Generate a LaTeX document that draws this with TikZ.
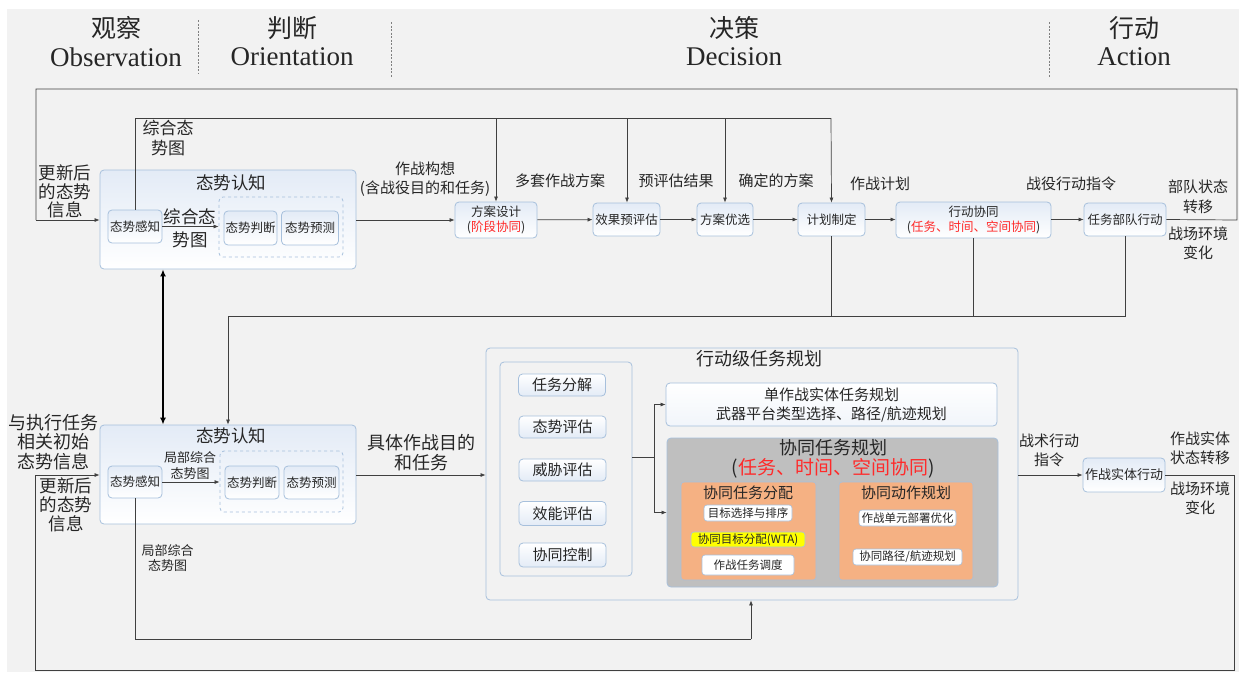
\documentclass[tikz,border=0pt]{standalone}
\usepackage{fontspec}
\setmainfont{Liberation Serif}
\newfontfamily\cjk{Noto Sans CJK SC}
\usetikzlibrary{arrows.meta}
\newcommand\myfs[2]{\fontsize{#1}{#2}\selectfont}
\definecolor{bgc}{HTML}{F2F2F2}
\definecolor{bordc}{HTML}{A7C0DC}
\definecolor{boxtop}{HTML}{E3EBF6}
\definecolor{linec}{HTML}{404040}
\definecolor{txt}{HTML}{262626}
\definecolor{redc}{HTML}{FF2A2A}
\definecolor{grayc}{HTML}{BFBFBF}
\definecolor{orangec}{HTML}{F5B183}
\definecolor{yel}{HTML}{FFFF00}
\tikzset{
 base/.style={inner sep=0pt, align=center, text=txt},
 box/.style={draw=bordc, line width=0.8pt, rounded corners=4pt, top color=boxtop, bottom color=white, inner sep=1pt, align=center, text=txt, font=\cjk\myfs{12.5}{15}},
 plainbox/.style={draw=bordc, line width=0.8pt, rounded corners=4pt, fill=bgc},
 dbox/.style={draw=bordc, dashed, line width=0.8pt, rounded corners=4pt},
 wbox/.style={draw=bordc, line width=0.6pt, rounded corners=3pt, fill=white, inner sep=1pt, align=center, text=txt, font=\cjk\myfs{11.5}{13}},
 sbox/.style={draw=bordc, line width=0.8pt, rounded corners=4pt, top color=white, bottom color=boxtop, inner sep=1pt, align=center, text=txt, font=\cjk\myfs{15}{17}},
 lbl/.style={base, font=\cjk\myfs{15}{18.5}},
 slbl/.style={base, font=\cjk\myfs{13}{16}},
 biglbl/.style={base, font=\cjk\myfs{17.5}{19}},
 ln/.style={draw=linec, line width=0.7pt},
 arr/.style={ln, -{Latex[length=5pt,width=4pt]}},
 divider/.style={draw=gray, line width=0.6pt, dash pattern=on 2pt off 1.5pt},
}
\begin{document}
\begin{tikzpicture}[x=1pt,y=-1pt]
\useasboundingbox (0,0) rectangle (1239,672);
\fill[bgc] (7,9) rectangle (1239,672);
% header
\node[base, font=\cjk\myfs{25}{28}] (hobs) at (116,28) {观察};
\node[base, font=\myfs{27}{30}] (hobsE) at (116,57) {Observation};
\node[base, font=\cjk\myfs{25}{28}] (hori) at (292,28) {判断};
\node[base, font=\myfs{27}{30}] (horiE) at (292,57) {Orientation};
\node[base, font=\cjk\myfs{25}{28}] (hdec) at (734,28) {决策};
\node[base, font=\myfs{27}{30}] (hdecE) at (734,57) {Decision};
\node[base, font=\cjk\myfs{25}{28}] (hact) at (1134,28) {行动};
\node[base, font=\myfs{27}{30}] (hactE) at (1134,57) {Action};
\draw[divider] (198,20) -- (198,74);
\draw[divider] (391,22) -- (391,77);
\draw[divider] (1049,22) -- (1049,77);

% upper situation awareness
\node[box, minimum width=256pt, minimum height=99pt] (SA1) at (228,219.5) {};
\node[biglbl] (SA1t) at (231,183) {态势认知};
\node[box, minimum width=54pt, minimum height=33pt] (GZ1) at (135,226.5) {态势感知};
\node[dbox, minimum width=124pt, minimum height=60pt] (DB1) at (281,227) {};
\node[box, minimum width=53pt, minimum height=34pt] (PD1) at (250.5,228) {态势判断};
\node[box, minimum width=57pt, minimum height=34pt] (YC1) at (310,228) {态势预测};
\draw[arr] (GZ1.east) -- (DB1.west |- GZ1.east);
\node[biglbl, font=\cjk\myfs{17.5}{22.5}] (L1) at (190,228.5) {综合态\\势图};

% decision row
\node[box, minimum width=82pt, minimum height=36pt] (FA) at (496,220) {方案设计\\(\textcolor{redc}{阶段协同})};
\node[box, minimum width=67pt, minimum height=33pt] (XG) at (626.5,219.5) {效果预评估};
\node[box, minimum width=56pt, minimum height=33pt] (YX) at (725,219.5) {方案优选};
\node[box, minimum width=67pt, minimum height=33pt] (JH) at (831.5,219.5) {计划制定};
\node[box, minimum width=155pt, minimum height=36pt] (XD) at (973.5,220) {行动协同\\(\textcolor{redc}{任务、时间、空间协同})};
\node[box, minimum width=82pt, minimum height=33pt] (RW) at (1125,219.5) {任务部队行动};

\draw[arr] (SA1.east |- FA.west) -- (FA.west);
\draw[arr] (FA) -- (XG);
\draw[arr] (XG) -- (YX);
\draw[arr] (YX) -- (JH);
\draw[arr] (JH) -- (XD.west |- JH.east);
\draw[arr] (XD.east |- RW.west) -- (RW.west);

\node[lbl] (Lzz) at (425,179) {作战构想\\(含战役目的和任务)};
\node[lbl] (Ldt) at (560,181) {多套作战方案};
\node[lbl] (Lpg) at (676,181) {预评估结果};
\node[lbl] (Lqd) at (776,181) {确定的方案};
\node[lbl] (Ljh) at (880,184) {作战计划};
\node[lbl] (Lzy) at (1071,184) {战役行动指令};
\node[lbl, font=\cjk\myfs{15}{19.5}] (Lbd) at (1198,197) {部队状态\\转移};
\node[lbl, font=\cjk\myfs{15}{19}] (Lhj) at (1198,243) {战场环境\\变化};

% overview line from upper perception
\coordinate (T0) at (135,118);
\draw[ln] (GZ1.north) -- (T0) -- (831,118);
\draw[arr] (831,118) -- (JH.north);
\draw[arr] (496,118) -- (FA.north);
\draw[arr] (627,118) -- (XG.north -| 627,0);
\draw[arr] (725,118) -- (YX.north);
\node[biglbl, font=\cjk\myfs{17}{20}] (L2) at (168,138) {综合态\\势图};

% top feedback loop
\coordinate (C1) at (1237,220);
\coordinate (C2) at (1237,89);
\coordinate (C3) at (36,89);
\coordinate (C4) at (36,220);
\draw[ln] (RW.east) -- (C1) -- (C2) -- (C3) -- (C4);
\draw[arr] (C4) -- (SA1.west |- C4);
\node[biglbl, font=\cjk\myfs{17.5}{18.5}] (L3) at (65,191.5) {更新后\\的态势\\信息};

% down lines to lower SA
\coordinate (D1) at (1125,316);
\coordinate (D2) at (228,316);
\draw[ln] (JH.south) -- (JH.south |- D1);
\draw[ln] (XD.south) -- (XD.south |- D1);
\draw[ln] (RW.south) -- (D1) -- (D2);

% lower situation awareness
\node[box, minimum width=256pt, minimum height=99pt] (SA2) at (228,474.5) {};
\node[biglbl] (SA2t) at (231,436) {态势认知};
\node[box, minimum width=54pt, minimum height=32pt] (GZ2) at (135,482) {态势感知};
\node[dbox, minimum width=123pt, minimum height=61pt] (DB2) at (281.5,481.5) {};
\node[box, minimum width=54pt, minimum height=33pt] (PD2) at (252,482.5) {态势判断};
\node[box, minimum width=55pt, minimum height=33pt] (YC2) at (311.5,482.5) {态势预测};
\draw[arr] (GZ2.east) -- (DB2.west |- GZ2.east);
\node[slbl, font=\cjk\myfs{13}{16.5}] (L4) at (190,465.5) {局部综合\\态势图};
\draw[arr] (D2) -- (SA2.north -| D2);
\draw[line width=2.2pt, draw=black, {Latex[length=7pt,width=6pt]}-{Latex[length=7pt,width=6pt]}] (SA1.south -| 163,0) -- (SA2.north -| 163,0);

\node[biglbl, font=\cjk\myfs{18}{19.5}] (L5) at (54,442) {与执行任务\\相关初始\\态势信息};
\node[biglbl, font=\cjk\myfs{17.5}{19}] (L6) at (66,505) {更新后\\的态势\\信息};

% action-level task planning
\node[plainbox, minimum width=532pt, minimum height=252pt] (XDJ) at (752,474) {};
\node[biglbl, font=\cjk\myfs{18}{20}] (XDJt) at (759,359) {行动级任务规划};
\draw[arr] (SA2.east |- 0,475) -- (XDJ.west |- 0,475);
\node[biglbl, font=\cjk\myfs{18}{20}] (L7) at (421,453) {具体作战目的\\和任务};

\node[plainbox, minimum width=132pt, minimum height=214pt] (LC) at (566,469) {};
\node[sbox, minimum width=87pt, minimum height=22pt] (B1) at (562,385) {任务分解};
\node[sbox, minimum width=87pt, minimum height=22pt] (B2) at (562.5,427) {态势评估};
\node[sbox, minimum width=87pt, minimum height=22pt] (B3) at (562.5,470) {威胁评估};
\node[sbox, minimum width=87pt, minimum height=24pt] (B4) at (562.5,513.5) {效能评估};
\node[sbox, minimum width=87pt, minimum height=24pt] (B5) at (562.5,555) {协同控制};

\node[draw=bordc, line width=0.8pt, rounded corners=4pt, top color=white, bottom color=boxtop!50, minimum width=331pt, minimum height=43pt, base, font=\cjk\myfs{15}{19}] (SD) at (831.5,404.5) {单作战实体任务规划\\武器平台类型选择、路径/航迹规划};
\node[draw=bordc, line width=0.8pt, rounded corners=4pt, fill=grayc, minimum width=331pt, minimum height=149pt] (XT) at (832.5,512.5) {};
\node[biglbl, font=\cjk\myfs{18}{20}] (XTt) at (833,448) {协同任务规划};
\node[biglbl, font=\cjk\myfs{19}{21}] (XTr) at (833,468.5) {(\textcolor{redc}{任务、时间、空间协同})};

\coordinate (J) at (654,457);
\draw[ln] (LC.east |- J) -- (J);
\draw[arr] (J) |- (SD.west);
\draw[arr] (J) |- (XT.west);

\node[draw=bordc, line width=0.6pt, rounded corners=3pt, fill=orangec, minimum width=135pt, minimum height=98pt] (FP) at (748.5,531) {};
\node[draw=bordc, line width=0.6pt, rounded corners=3pt, fill=orangec, minimum width=134pt, minimum height=98pt] (DZ) at (906,531) {};
\node[base, font=\cjk\myfs{15}{17}] (FPt) at (748,493) {协同任务分配};
\node[base, font=\cjk\myfs{15}{17}] (DZt) at (906,493) {协同动作规划};
\node[wbox, minimum width=88pt, minimum height=16pt] (W1) at (748,513) {目标选择与排序};
\node[wbox, minimum width=114pt, minimum height=15pt, fill=yel] (W2) at (748,539.5) {协同目标分配(WTA)};
\node[wbox, minimum width=92pt, minimum height=20pt] (W3) at (748,565) {作战任务调度};
\node[wbox, minimum width=97pt, minimum height=16pt] (W4) at (907.5,518) {作战单元部署优化};
\node[wbox, minimum width=109pt, minimum height=16pt] (W5) at (907.5,557) {协同路径/航迹规划};

% entity action
\node[box, minimum width=82pt, minimum height=34pt, font=\cjk\myfs{13}{15}] (ZS) at (1124,475) {作战实体行动};
\draw[arr] (XDJ.east |- ZS.west) -- (ZS.west);
\node[lbl, font=\cjk\myfs{15}{19}] (L8) at (1049,450.5) {战术行动\\指令};
\node[lbl, font=\cjk\myfs{15}{18.5}] (L9) at (1200,448.5) {作战实体\\状态转移};
\node[lbl, font=\cjk\myfs{15}{19}] (L10) at (1200,498.5) {战场环境\\变化};

% bottom feedback loop
\coordinate (E1) at (1234,475);
\coordinate (E2) at (1234,670);
\coordinate (E3) at (35,670);
\coordinate (E4) at (35,475);
\draw[ln] (ZS.east) -- (E1) -- (E2) -- (E3) -- (E4);
\draw[arr] (E4) -- (SA2.west |- E4);

% local picture to planning
\coordinate (F1) at (135,639);
\coordinate (F2) at (751,639);
\draw[ln] (GZ2.south) -- (F1) -- (F2);
\draw[arr] (F2) -- (XDJ.south -| F2);
\node[slbl, font=\cjk\myfs{13}{15}] (L11) at (167.5,558.5) {局部综合\\态势图};
\end{tikzpicture}
\end{document}
